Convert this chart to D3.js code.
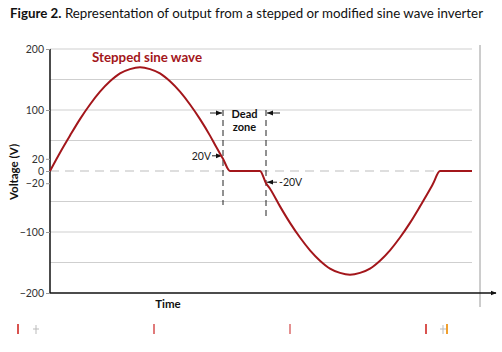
<!DOCTYPE html>
<html>
<head>
<meta charset="utf-8">
<script src="https://cdn.jsdelivr.net/npm/d3@7"></script>
<style>
  body { margin: 0; background: #fff; }
  svg { display: block; font-family: Lato, "Liberation Sans", sans-serif; }
</style>
</head>
<body>
<div id="chart"></div>
<script>
// time in electrical degrees, voltage in volts
var timeDeg = [0, 10, 20, 30, 40, 50, 60, 70, 80, 90, 100, 110, 120, 130, 140, 150, 160, 166, 173, 180,
               210, 216, 220, 230, 240, 250, 260, 270, 280, 290, 300, 310, 320, 330, 340, 350, 360, 370, 380, 383, 390, 422];
var voltage = [0, 30, 58, 85, 109, 130, 147, 160, 167, 170, 167, 160, 147, 130, 109, 85, 58, 40, 20, 0,
               0, -20, -29, -58, -85, -109, -130, -147, -160, -167, -170, -167, -160, -147, -130, -109, -85, -58, -30, -21, 0, 0];

var yTicks = [200, 100, 20, 0, -20, -100, -200];
var yGrid = [200, 150, 100, 50, -50, -100, -150];
var deadZone = [173, 216];      // dashed markers, degrees
var deadLevels = [20, -20];     // volts at the markers
var seriesLabel = "Stepped sine wave";

var width = 502, height = 352;
var red = "#a3161b";

var svg = d3.select("#chart").append("svg")
    .attr("width", width)
    .attr("height", height);

var x = d3.scaleLinear().domain([0, 446]).range([50, 496]);
var y = d3.scaleLinear().domain([-200, 200]).range([293, 49]);

// title
var title = svg.append("text")
    .attr("x", 10).attr("y", 18)
    .attr("font-size", 12.5)
    .attr("fill", "#111")
    .attr("textLength", 473)
    .attr("lengthAdjust", "spacingAndGlyphs");
title.append("tspan").attr("font-weight", "bold").text("Figure 2.");
title.append("tspan").text(" Representation of output from a stepped or modified sine wave inverter");

// gridlines
svg.append("g").selectAll("line")
    .data(yGrid)
    .enter().append("line")
      .attr("x1", x(0)).attr("x2", x(422))
      .attr("y1", d => y(d)).attr("y2", d => y(d))
      .attr("stroke", "#cfcfcf")
      .attr("stroke-width", 1);

// zero line, dashed
svg.append("line")
    .attr("x1", x(0)).attr("x2", x(422))
    .attr("y1", y(0)).attr("y2", y(0))
    .attr("stroke", "#bdbdbd")
    .attr("stroke-dasharray", "9,6");

// right frame line
svg.append("line")
    .attr("x1", 480).attr("x2", 480)
    .attr("y1", 45).attr("y2", 307)
    .attr("stroke", "#9a9a9a")
    .attr("stroke-width", 1);

// y axis
var yAxis = svg.append("g")
    .attr("transform", "translate(" + x(0) + ",0)")
    .call(d3.axisLeft(y).tickValues(yTicks).tickSize(4).tickPadding(2).tickFormat(d3.format("d")));
yAxis.select(".domain").attr("stroke", "#111").attr("stroke-width", 1.5).attr("d", "M0," + y(200) + "V" + y(-200));
yAxis.selectAll(".tick line").attr("stroke", "#999");
yAxis.selectAll(".tick text")
    .attr("font-size", 10.5)
    .attr("fill", "#333")
    .attr("font-family", "Lato, sans-serif");

// x axis with arrow
svg.append("defs").append("marker")
    .attr("id", "arrow")
    .attr("viewBox", "0 -5 10 10")
    .attr("refX", 9).attr("refY", 0)
    .attr("markerWidth", 6).attr("markerHeight", 6)
    .attr("markerUnits", "userSpaceOnUse")
    .attr("orient", "auto")
  .append("path")
    .attr("d", "M0,-4L10,0L0,4Z")
    .attr("fill", "#111");

svg.append("line")
    .attr("x1", x(0)).attr("x2", x(446))
    .attr("y1", y(-200)).attr("y2", y(-200))
    .attr("stroke", "#111")
    .attr("stroke-width", 1.5)
    .attr("marker-end", "url(#arrow)");

// axis titles
svg.append("text")
    .attr("x", 168).attr("y", 308)
    .attr("text-anchor", "middle")
    .attr("font-size", 11.5)
    .attr("font-weight", "bold")
    .attr("fill", "#111")
    .text("Time");

svg.append("text")
    .attr("transform", "translate(18,172) rotate(-90)")
    .attr("text-anchor", "middle")
    .attr("font-size", 11.5)
    .attr("font-weight", "bold")
    .attr("fill", "#111")
    .text("Voltage (V)");

// dead zone markers
svg.append("g").selectAll("line")
    .data(deadZone)
    .enter().append("line")
      .attr("x1", d => x(d)).attr("x2", d => x(d))
      .attr("y1", y(100)).attr("y2", (d, i) => i ? 217 : 205)
      .attr("stroke", "#222")
      .attr("stroke-width", 1)
      .attr("stroke-dasharray", "6,4");

var ah = svg.select("defs").append("marker")
    .attr("id", "small")
    .attr("viewBox", "0 -5 10 10")
    .attr("refX", 10).attr("refY", 0)
    .attr("markerWidth", 6).attr("markerHeight", 6)
    .attr("markerUnits", "userSpaceOnUse")
    .attr("orient", "auto");
ah.append("path").attr("d", "M0,-4L10,0L0,4Z").attr("fill", "#111");

function pointer(x1, x2, yy) {
  svg.append("line")
      .attr("x1", x1).attr("x2", x2)
      .attr("y1", yy).attr("y2", yy)
      .attr("stroke", "#222")
      .attr("stroke-width", 1)
      .attr("marker-end", "url(#small)");
}

var yDead = 113;
pointer(x(deadZone[0]) - 13, x(deadZone[0]) - 1, yDead);
pointer(x(deadZone[1]) + 14, x(deadZone[1]) + 1, yDead);

svg.append("text")
    .attr("x", (x(deadZone[0]) + x(deadZone[1])) / 2).attr("y", 118)
    .attr("text-anchor", "middle")
    .attr("font-size", 11)
    .attr("font-weight", "bold")
    .attr("fill", "#111")
    .text("Dead");
svg.append("text")
    .attr("x", (x(deadZone[0]) + x(deadZone[1])) / 2).attr("y", 131)
    .attr("text-anchor", "middle")
    .attr("font-size", 11)
    .attr("font-weight", "bold")
    .attr("fill", "#111")
    .text("zone");

// 20V / -20V callouts
pointer(x(deadZone[0]) - 11, x(deadZone[0]) - 1, y(deadLevels[0]) - 3);
svg.append("text")
    .attr("x", x(deadZone[0]) - 12).attr("y", y(deadLevels[0]) + 1)
    .attr("text-anchor", "end")
    .attr("font-size", 10.5)
    .attr("fill", "#222")
    .text("20V");

pointer(x(deadZone[1]) + 11, x(deadZone[1]) + 1, y(deadLevels[1]) - 1);
svg.append("text")
    .attr("x", x(deadZone[1]) + 13).attr("y", y(deadLevels[1]) + 3)
    .attr("font-size", 10.5)
    .attr("fill", "#222")
    .text("-20V");

// the wave
var pts = timeDeg.map((t, i) => [t, voltage[i]]);
svg.append("path")
    .datum(pts)
    .attr("fill", "none")
    .attr("stroke", red)
    .attr("stroke-width", 2)
    .attr("stroke-linejoin", "round")
    .attr("d", d3.line()
        .x(d => x(d[0]))
        .y(d => y(d[1]))
        .curve(d3.curveMonotoneX));

svg.append("text")
    .attr("x", 147).attr("y", 62)
    .attr("text-anchor", "middle")
    .attr("font-size", 13)
    .attr("font-weight", "bold")
    .attr("fill", red)
    .attr("textLength", 110)
    .attr("lengthAdjust", "spacingAndGlyphs")
    .text(seriesLabel);

// faint scan marks along the bottom
var marks = [[17, "#d9534f"], [153, "#e07a7a"], [289, "#e49090"], [425, "#d9534f"], [446, "#f0a030"]];
svg.append("g").selectAll("rect")
    .data(marks)
    .enter().append("rect")
      .attr("x", d => d[0]).attr("y", 324)
      .attr("width", 2).attr("height", 10)
      .attr("fill", d => d[1]);
svg.append("g").selectAll("path")
    .data([36, 443])
    .enter().append("path")
      .attr("d", d => "M" + (d - 3) + ",329H" + (d + 3) + "M" + d + ",325V334")
      .attr("stroke", "#bbb")
      .attr("stroke-width", 1);
</script>
</body>
</html>
